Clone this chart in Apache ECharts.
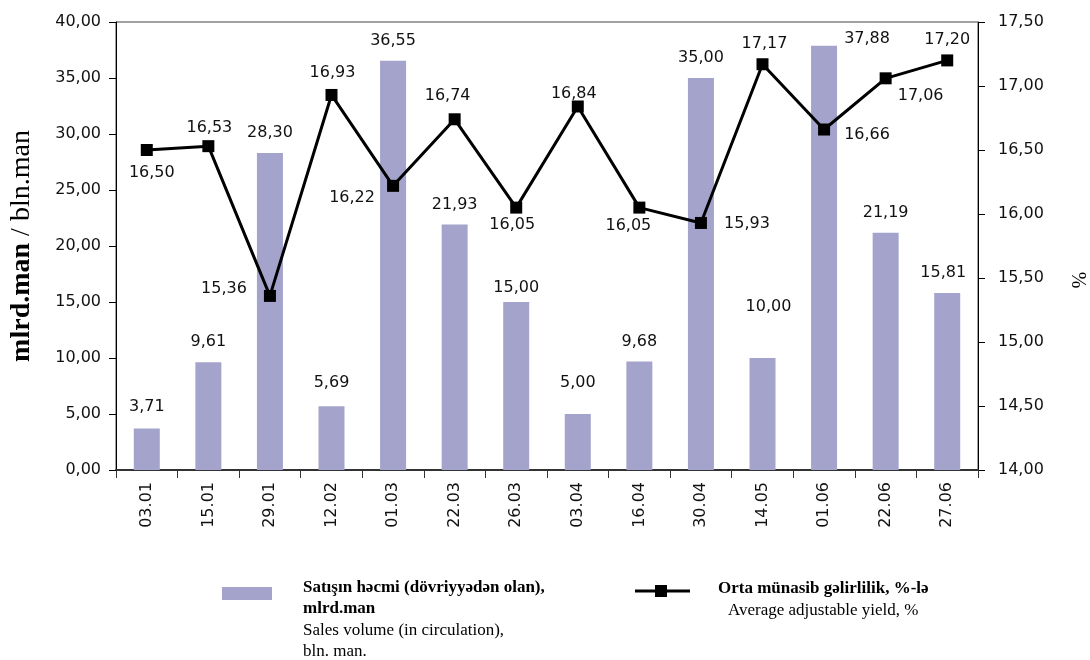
<!DOCTYPE html>
<html>
<head>
<meta charset="utf-8">
<script src="https://cdn.jsdelivr.net/npm/echarts@6/dist/echarts.min.js"></script>
<style>html,body{margin:0;padding:0;background:#fff}#c{width:1090px;height:660px}</style>
</head>
<body>
<div id="c"></div>
<script>
const categories = ['03.01','15.01','29.01','12.02','01.03','22.03','26.03','03.04','16.04','30.04','14.05','01.06','22.06','27.06'];
const salesVolume = [3.71, 9.61, 28.30, 5.69, 36.55, 21.93, 15.00, 5.00, 9.68, 35.00, 10.00, 37.88, 21.19, 15.81];
const avgYield = [16.50, 16.53, 15.36, 16.93, 16.22, 16.74, 16.05, 16.84, 16.05, 15.93, 17.17, 16.66, 17.06, 17.20];
const leftAxisTicks = [0, 40, 5];      // min, max, interval
const rightAxisTicks = [14, 17.5, 0.5]; // min, max, interval

// label placement tweaks (style only)
const barLabelShift = [[0,-2],[0,-1],[0,0],[0,-3],[0,0],[0,0],[0,6],[0,-11],[0,0],[0,0],[6,-31],[43,13],[0,0],[-4,0]];
const lineLabelShift = [[5,23],[1,-18],[-46,-7],[1,-22],[-41,12],[-7,-23],[-4,17],[-4,-13],[-11,18],[46,1],[2,-20],[43,5],[35,18],[0,-21]];

const fmt = v => Number(v).toFixed(2).replace('.', ',');
const BAR = '#a3a3cc';
const SANS = '"DejaVu Sans", Verdana, sans-serif';
const SERIF = '"Liberation Serif", "Times New Roman", serif';

const chart = echarts.init(document.getElementById('c'), null, {renderer: 'canvas'});
chart.setOption({
  animation: false,
  backgroundColor: '#fff',
  grid: {left: 115, right: 112, top: 22, bottom: 190, show: true, borderColor: '#444', borderWidth: 1, backgroundColor: 'transparent'},
  xAxis: {
    type: 'category', data: categories, boundaryGap: true,
    axisLine: {lineStyle: {color: '#333', width: 2}},
    axisTick: {show: true, length: 8, lineStyle: {color: '#333'}},
    axisLabel: {rotate: 90, margin: 12, fontFamily: SANS, fontSize: 16, color: '#111', interval: 0}
  },
  yAxis: [{
    type: 'value', min: leftAxisTicks[0], max: leftAxisTicks[1], interval: leftAxisTicks[2],
    position: 'left',
    name: '{b|mlrd.man}{r| / bln.man}', nameLocation: 'middle', nameRotate: 90, nameGap: 80,
    nameTextStyle: {rich: {
      b: {fontFamily: SERIF, fontWeight: 'bold', fontSize: 28, color: '#000'},
      r: {fontFamily: SERIF, fontSize: 28, color: '#000'}
    }},
    axisLine: {show: true, lineStyle: {color: '#000', width: 1}},
    axisTick: {show: true, length: 7, lineStyle: {color: '#000'}},
    splitLine: {show: false},
    axisLabel: {formatter: fmt, margin: 15, fontFamily: SANS, fontSize: 16, color: '#111'}
  }, {
    type: 'value', min: rightAxisTicks[0], max: rightAxisTicks[1], interval: rightAxisTicks[2],
    position: 'right',
    axisLine: {show: true, lineStyle: {color: '#000', width: 1}},
    axisTick: {show: true, length: 7, lineStyle: {color: '#000'}},
    splitLine: {show: false},
    axisLabel: {formatter: fmt, margin: 20, fontFamily: SANS, fontSize: 16, color: '#111'}
  }],
  series: [{
    type: 'bar', yAxisIndex: 0, barWidth: 26,
    itemStyle: {color: BAR},
    label: {show: true, position: 'top', distance: 12, formatter: p => fmt(p.value), fontFamily: SANS, fontSize: 16, color: '#111'},
    data: salesVolume.map((v, i) => ({value: v, label: {offset: barLabelShift[i]}}))
  }, {
    type: 'line', yAxisIndex: 1,
    symbol: 'rect', symbolSize: 12,
    lineStyle: {color: '#000', width: 3},
    itemStyle: {color: '#000'},
    label: {show: true, position: 'inside', formatter: p => fmt(p.value), fontFamily: SANS, fontSize: 16, color: '#111'},
    data: avgYield.map((v, i) => ({value: v, label: {offset: lineLabelShift[i]}})),
    z: 5
  }],
  graphic: [
    {type: 'text', x: 1077, y: 280, rotation: -Math.PI / 2, style: {x: 0, y: 0, text: '%', font: '20px ' + SERIF, fill: '#000', textAlign: 'center', align: 'center', textVerticalAlign: 'middle', verticalAlign: 'middle'}},
    {type: 'rect', shape: {x: 222, y: 587, width: 50, height: 13}, style: {fill: BAR}},
    {type: 'text', style: {x: 303, y: 588, text: 'Satışın həcmi (dövriyyədən olan),', font: 'bold 17px ' + SERIF, fill: '#000', textVerticalAlign: 'middle', verticalAlign: 'middle'}},
    {type: 'text', style: {x: 303, y: 609, text: 'mlrd.man', font: 'bold 17px ' + SERIF, fill: '#000', textVerticalAlign: 'middle', verticalAlign: 'middle'}},
    {type: 'text', style: {x: 303, y: 631, text: 'Sales volume (in circulation),', font: '17px ' + SERIF, fill: '#000', textVerticalAlign: 'middle', verticalAlign: 'middle'}},
    {type: 'text', style: {x: 303, y: 652, text: 'bln. man.', font: '17px ' + SERIF, fill: '#000', textVerticalAlign: 'middle', verticalAlign: 'middle'}},
    {type: 'line', shape: {x1: 635, y1: 591, x2: 690, y2: 591}, style: {stroke: '#000', lineWidth: 3}},
    {type: 'rect', shape: {x: 655, y: 585, width: 12, height: 12}, style: {fill: '#000'}},
    {type: 'text', style: {x: 718, y: 589, text: 'Orta münasib gəlirlilik, %-lə', font: 'bold 17px ' + SERIF, fill: '#000', textVerticalAlign: 'middle', verticalAlign: 'middle'}},
    {type: 'text', style: {x: 728, y: 611, text: 'Average adjustable yield, %', font: '17px ' + SERIF, fill: '#000', textVerticalAlign: 'middle', verticalAlign: 'middle'}}
  ]
});
</script>
</body>
</html>
